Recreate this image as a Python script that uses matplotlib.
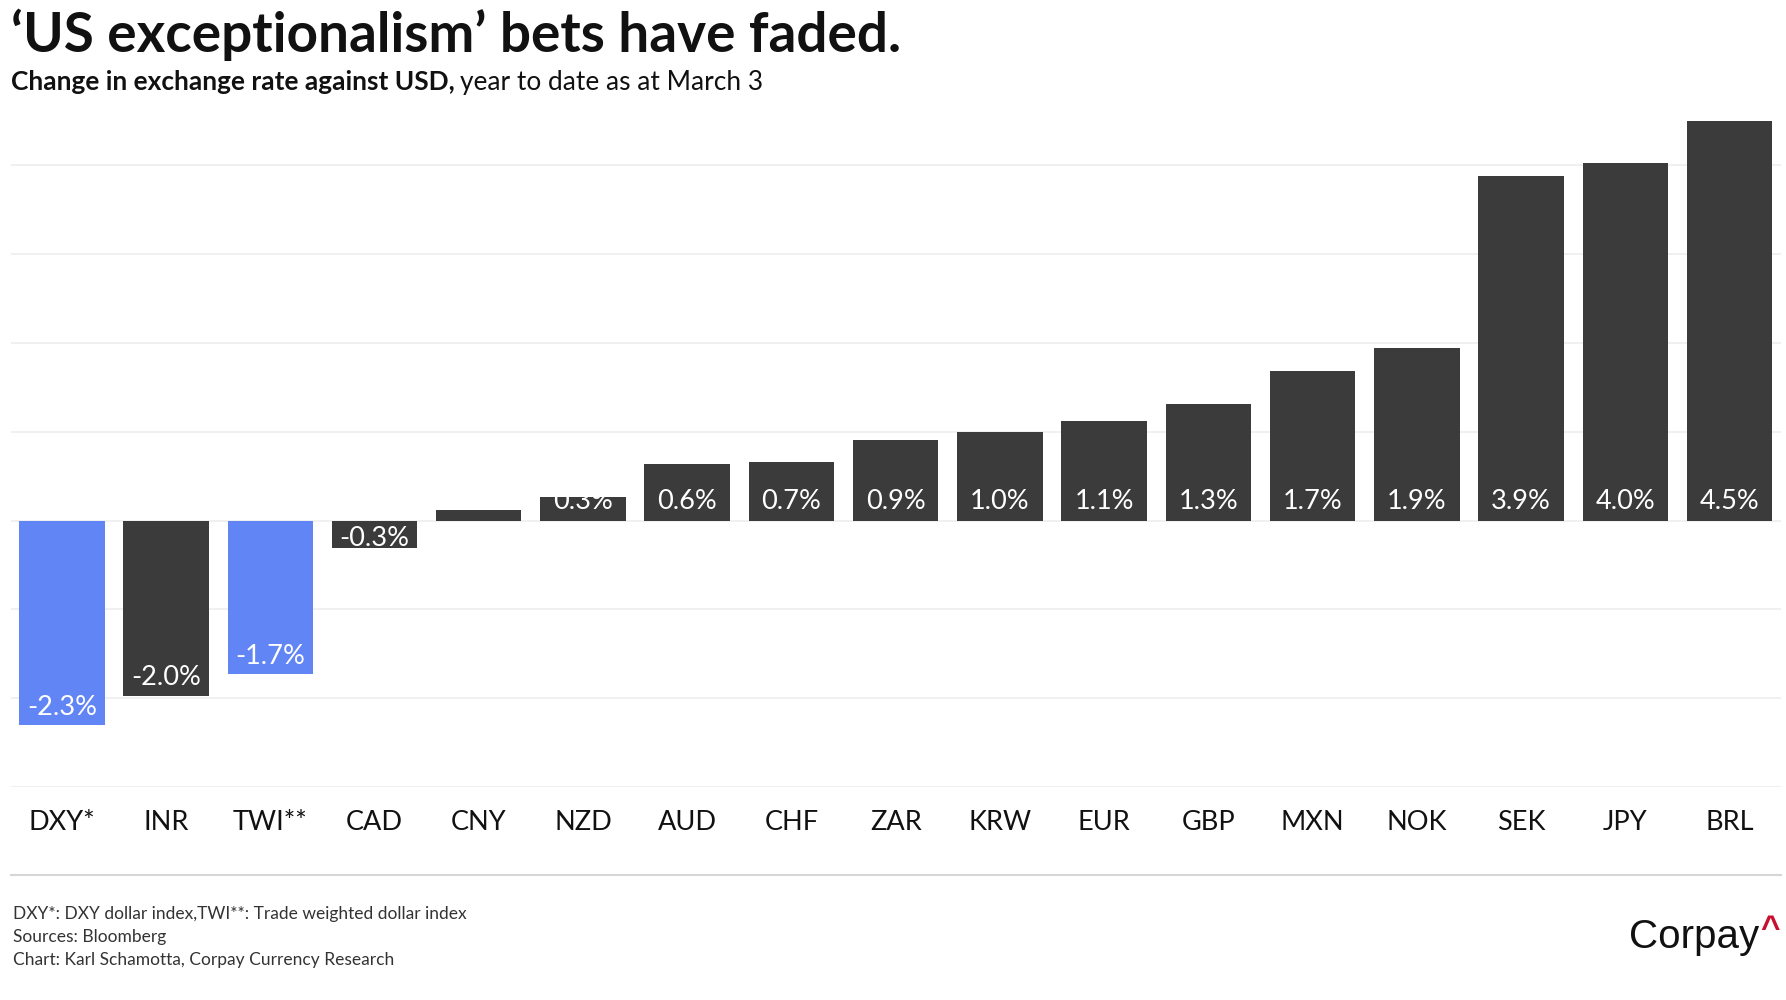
import matplotlib
matplotlib.use("Agg")
import matplotlib.pyplot as plt

# year-to-date change vs USD (%), as at March 3
CURRENCIES = ["DXY*", "INR", "TWI**", "CAD", "CNY", "NZD", "AUD", "CHF", "ZAR",
              "KRW", "EUR", "GBP", "MXN", "NOK", "SEK", "JPY", "BRL"]
CHANGES = [-2.30, -1.97, -1.73, -0.31, 0.12, 0.27, 0.64, 0.66, 0.91,
           1.00, 1.12, 1.31, 1.69, 1.94, 3.88, 4.03, 4.50]
INDEXES = {"DXY*", "TWI**"}
GRID_TICKS = [-3, -2, -1, 0, 1, 2, 3, 4]

DARK = "#3b3b3b"
BLUE = "#6285f5"

plt.rcParams["font.family"] = ["Lato", "DejaVu Sans"]

fig = plt.figure(figsize=(17.86, 10), dpi=100)
ax = fig.add_axes([0.006, 0.213, 0.991, 0.666])

x = list(range(len(CURRENCIES)))
colors = [BLUE if c in INDEXES else DARK for c in CURRENCIES]
bars = ax.bar(x, CHANGES, width=0.82, color=colors, zorder=2)

# value labels sit at the inner base of each bar, clipped by the bar
for bar, v in zip(bars, CHANGES):
    if v >= 0:
        y = 0.22
    else:
        y = v + min(0.2, 0.35 * abs(v))
    t = ax.text(bar.get_x() + bar.get_width() / 2, y, f"{v:.1f}%",
                ha="center", va="center", color="white", fontsize=19.5, zorder=3)
    t.set_clip_path(bar)

ax.set_xlim(-0.49, len(CURRENCIES) - 0.51)
ax.set_ylim(-3, 4.5)
ax.set_yticks(GRID_TICKS)
ax.yaxis.grid(True, color="#efefef", linewidth=1.3, zorder=0)
ax.tick_params(axis="y", left=False, labelleft=False)
ax.set_xticks(x)
ax.set_xticklabels(CURRENCIES, fontsize=19.5, color="#111111")
ax.tick_params(axis="x", bottom=False, pad=13)
for s in ax.spines.values():
    s.set_visible(False)

# separator line under the category labels
fig.add_artist(plt.Line2D([0.006, 0.997], [0.125, 0.125], color="#d6d6d6", linewidth=1.5))

fig.text(0.006, 0.948, "\u2018US exceptionalism\u2019 bets have faded.",
         fontsize=39.5, fontweight="bold", color="#111111", va="baseline")
sub = fig.text(0.006, 0.91, "Change in exchange rate against USD,",
               fontsize=18.9, fontweight="bold", color="#111111", va="baseline")
fig.canvas.draw()
bb = sub.get_window_extent()
fig.text(bb.x1 / fig.bbox.width + 0.003, 0.91, "year to date as at March 3",
         fontsize=18.9, color="#111111", va="baseline")

notes = ["DXY*: DXY dollar index,TWI**: Trade weighted dollar index",
         "Sources: Bloomberg",
         "Chart: Karl Schamotta, Corpay Currency Research"]
for i, line in enumerate(notes):
    fig.text(0.007, 0.0815 - i * 0.0235, line, fontsize=12.5, color="#333333", va="baseline")

fig.text(0.985, 0.052, "Corpay", fontsize=29, color="#111111", ha="right",
         va="baseline", family=["Liberation Sans", "DejaVu Sans"])
fig.text(0.9965, 0.062, "^", fontsize=24, fontweight="bold", color="#c8102e",
         ha="right", va="baseline", family=["Liberation Sans", "DejaVu Sans"])

fig.savefig("out.png", dpi=100)
